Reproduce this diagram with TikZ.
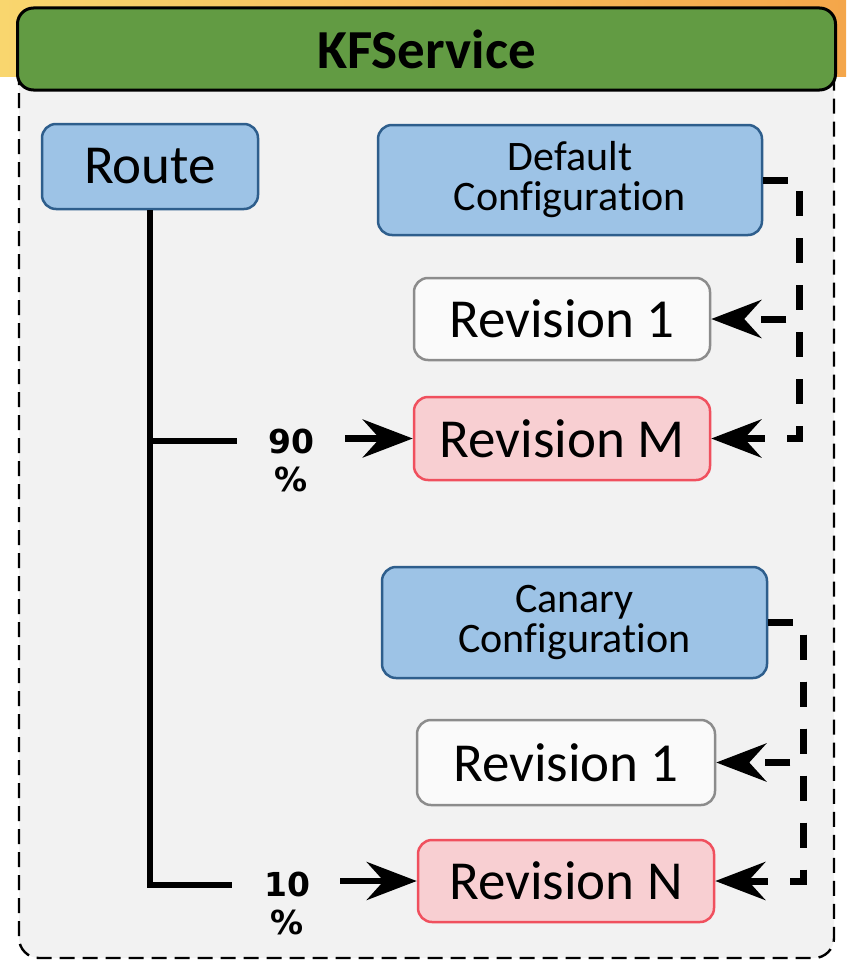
\documentclass[tikz,border=0pt]{standalone}
\usepackage{fontspec}
\setmainfont{Carlito}[Ligatures=NoCommon]
\newfontfamily\pctfont{DejaVu Sans}
\usetikzlibrary{arrows.meta}
\definecolor{cfgblue}{HTML}{9DC3E6}
\definecolor{cfgborder}{HTML}{2E5E8C}
\definecolor{revpink}{HTML}{F8CFD2}
\definecolor{revred}{HTML}{F0505E}
\definecolor{revgray}{HTML}{8C8C8C}
\definecolor{revwhite}{HTML}{FAFAFA}
\definecolor{panelgray}{HTML}{F2F2F2}
\definecolor{hdrgreen}{HTML}{629B43}
\definecolor{bandyellow}{HTML}{F9D66E}
\definecolor{bandorange}{HTML}{F4A64A}
\begin{document}
\begin{tikzpicture}[x=1pt,y=-1pt,
  box/.style={rounded corners=14pt, line width=2.5pt, inner sep=0pt, align=center},
  cfgbox/.style={box, fill=cfgblue, draw=cfgborder},
  revbox/.style={box, fill=revwhite, draw=revgray, font=\fontsize{55}{60}\selectfont},
  hotbox/.style={box, fill=revpink, draw=revred, font=\fontsize{55}{60}\selectfont},
  cfgtext/.style={font=\fontsize{42}{40}\selectfont},
  solidconn/.style={line width=6.5pt},
  tipend/.style={-{Stealth[length=50pt,width=38pt,inset=17pt]}},
  dconn/.style={line width=7pt, dash pattern=on 25pt off 22pt, tipend},
  pct/.style={font=\pctfont\bfseries\fontsize{33}{38}\selectfont, align=center, inner sep=0pt}
]
\fill[white] (0,0) rectangle (846,966);
\shade[left color=bandyellow, right color=bandorange] (0,0) rectangle (846,76);
\useasboundingbox (0,0) rectangle (846,966);

% container
\draw[fill=panelgray, line width=2.4pt, dash pattern=on 15pt off 8pt, rounded corners=20pt]
  (19,50) rectangle (834,958);
% header
\node[fill=hdrgreen, draw=black, line width=3pt, rounded corners=16pt, inner sep=0pt,
      minimum width=818pt, minimum height=82pt,
      font=\bfseries\fontsize{55}{60}\selectfont] (hdr) at (426.5,49) {KFService};

% nodes
\node[cfgbox, minimum width=216pt, minimum height=85pt, font=\fontsize{55}{60}\selectfont]
  (route) at (150,166.5) {Route};
\node[cfgbox, cfgtext, minimum width=384pt, minimum height=110pt]
  (defcfg) at (570,180) {Default\\Configuration};
\node[revbox, minimum width=296pt, minimum height=82pt] (rev1a) at (562,319) {Revision 1};
\node[hotbox, minimum width=296pt, minimum height=83pt] (revM) at (562,438.5) {Revision M};
\node[cfgbox, cfgtext, minimum width=385pt, minimum height=111pt]
  (cancfg) at (574.5,622.5) {Canary\\Configuration};
\node[revbox, minimum width=298pt, minimum height=85pt] (rev1b) at (566,762.5) {Revision 1};
\node[hotbox, minimum width=296pt, minimum height=82pt] (revN) at (566,881) {Revision N};

% percentage labels
\node[pct] (p90) at (291,460) {90\\\%};
\node[pct] (p10) at (287,903) {10\\\%};

% route connectors
\coordinate (j90) at (237,441);
\coordinate (j10) at (232,885);
\draw[solidconn] (route.south) |- (j10);
\draw[solidconn] (route.south) |- (j90);
\coordinate (a90) at (345,438.5);
\coordinate (a10) at (340,881);
\draw[solidconn, tipend] (a90) -- (revM.west);
\draw[solidconn, tipend] (a10) -- (revN.west);

% configuration connectors
\draw[dconn] (defcfg.east) -- ++(36,0) |- (revM.east);
\draw[dconn] (defcfg.east) -- ++(36,0) |- (rev1a.east);
\draw[dconn] (cancfg.east) -- ++(35,0) |- (revN.east);
\draw[dconn] (cancfg.east) -- ++(35,0) |- (rev1b.east);
\end{tikzpicture}
\end{document}
